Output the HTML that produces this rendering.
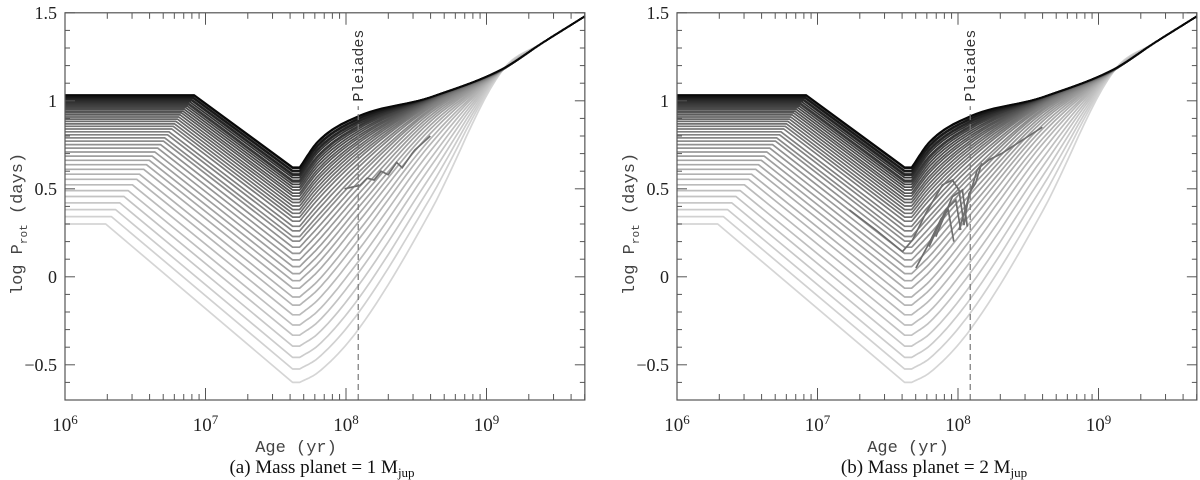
<!DOCTYPE html>
<html><head><meta charset="utf-8"><style>
html,body{margin:0;padding:0;background:#fff;width:1200px;height:480px;overflow:hidden}
svg{display:block}
</style></head><body>
<svg id="chart" width="1200" height="480" viewBox="0 0 1200 480" xmlns="http://www.w3.org/2000/svg"></svg>
<script>
// ---- data ----
const p0   = [0.300,0.342,0.382,0.420,0.456,0.490,0.523,0.554,0.583,0.611,0.637,0.662,0.686,0.709,0.731,0.751,0.771,0.789,0.807,0.824,0.840,0.855,0.869,0.883,0.896,0.908,0.920,0.931,0.941,0.951,0.961,0.970,0.978,0.986,0.994,1.001,1.008,1.015,1.021,1.027,1.033];
const tLock= [6.29,6.33,6.36,6.39,6.42,6.45,6.48,6.51,6.53,6.56,6.58,6.60,6.62,6.64,6.66,6.68,6.70,6.71,6.73,6.74,6.76,6.77,6.78,6.79,6.80,6.81,6.82,6.83,6.84,6.85,6.86,6.87,6.88,6.88,6.89,6.90,6.90,6.91,6.91,6.92,6.92];
const pMin = [-0.600,-0.524,-0.458,-0.394,-0.332,-0.274,-0.216,-0.161,-0.115,-0.065,-0.022,0.018,0.058,0.096,0.133,0.168,0.203,0.229,0.261,0.287,0.316,0.339,0.361,0.382,0.402,0.422,0.440,0.459,0.475,0.493,0.509,0.525,0.539,0.548,0.563,0.576,0.584,0.597,0.604,0.617,0.623];
const p78  = [-0.544,-0.462,-0.391,-0.323,-0.256,-0.194,-0.131,-0.072,-0.023,0.031,0.077,0.120,0.163,0.204,0.244,0.281,0.319,0.347,0.381,0.409,0.440,0.465,0.489,0.511,0.533,0.554,0.573,0.594,0.611,0.630,0.648,0.665,0.680,0.689,0.706,0.720,0.728,0.742,0.750,0.764,0.770];
const p120 = [-0.300,-0.206,-0.126,-0.051,0.021,0.086,0.150,0.209,0.258,0.310,0.353,0.393,0.432,0.469,0.504,0.537,0.568,0.592,0.621,0.644,0.669,0.688,0.707,0.725,0.741,0.758,0.772,0.787,0.800,0.814,0.827,0.840,0.851,0.857,0.868,0.878,0.884,0.894,0.899,0.909,0.913];
const p400 = [0.370,0.448,0.512,0.570,0.624,0.670,0.714,0.753,0.783,0.814,0.839,0.861,0.882,0.899,0.915,0.930,0.943,0.952,0.963,0.971,0.979,0.985,0.990,0.995,0.999,1.002,1.005,1.008,1.010,1.013,1.014,1.016,1.017,1.018,1.019,1.019,1.020,1.020,1.020,1.020,1.020];
const tailAge = [9.11, 9.4, 9.7];
const tailP   = [1.17, 1.33, 1.48];
// planet-affected tracks
const planetLeft  = [[7.99,0.50],[8.1,0.52],[8.15,0.56],[8.2,0.55],[8.25,0.60],[8.3,0.58],[8.36,0.65],[8.4,0.62],[8.47,0.70],[8.49,0.72],[8.6,0.80]];
const planetRight = [
 [[7.227,0.380],[7.416,0.266],[7.605,0.143],[7.676,0.209],[7.771,0.361],[7.889,0.522],[7.960,0.55],[8.007,0.493],[8.043,0.294],[8.078,0.474],[8.125,0.531],[8.161,0.626],[8.220,0.664],[8.314,0.702],[8.6,0.85]],
 [[7.794,0.171],[7.913,0.380],[7.984,0.436],[8.019,0.266]],
 [[7.842,0.228],[7.960,0.455],[8.031,0.493],[8.066,0.285]],
 [[8.007,0.266],[8.078,0.455],[8.137,0.607],[8.173,0.645]],
 [[7.70,0.05],[7.80,0.20],[7.88,0.33],[7.93,0.38],[7.97,0.20]]
];
const yTicks = [-0.5,0,0.5,1,1.5];
const yTickLabels = ["\u22120.5","0","0.5","1","1.5"];
const xDecades = [6,7,8,9];
const pleiadesAge = 8.087;
const captions = ["(a) Mass planet = 1 M","(b) Mass planet = 2 M"];

// ---- drawing ----
const NS="http://www.w3.org/2000/svg";
const svg=document.getElementById('chart');
const X0=65, XW=140.5, AMIN=6, AMAX=9.7, PMIN=-0.7, PMAX=1.5, YB=400, YS=176;
function el(tag,attrs,parent){const e=document.createElementNS(NS,tag);for(const k in attrs)e.setAttribute(k,attrs[k]);(parent||svg).appendChild(e);return e;}
function monotone(xs,ys){const n=xs.length,d=[],m=[];for(let i=0;i<n-1;i++)d.push((ys[i+1]-ys[i])/(xs[i+1]-xs[i]));m[0]=d[0];m[n-1]=d[n-2];for(let i=1;i<n-1;i++){m[i]=(d[i-1]*d[i]<=0)?0:(d[i-1]+d[i])/2;}
 for(let i=0;i<n-1;i++){if(d[i]===0){m[i]=m[i+1]=0;continue;}const a=m[i]/d[i],b=m[i+1]/d[i],s=a*a+b*b;if(s>9){const t=3/Math.sqrt(s);m[i]=t*a*d[i];m[i+1]=t*b*d[i];}}
 const out=[];for(let i=0;i<n-1;i++){const h=xs[i+1]-xs[i];for(let k=0;k<12;k++){const t=k/12,t2=t*t,t3=t2*t;out.push([xs[i]+t*h,(2*t3-3*t2+1)*ys[i]+(t3-2*t2+t)*h*m[i]+(-2*t3+3*t2)*ys[i+1]+(t3-t2)*h*m[i+1]]);}}
 out.push([xs[n-1],ys[n-1]]);return out;}

[0,612].forEach((ox,pi)=>{
 const g=el('g',{});
 
 
 const xs=a=>ox+X0+(a-AMIN)*XW, ys=p=>YB-(p-PMIN)*YS;
 const L=xs(AMIN),R=xs(AMAX),T=ys(PMAX),B=ys(PMIN);
 const cg=el('g',{fill:'none','stroke-width':'1.7','stroke-linejoin':'round'},g);
 
 
 const n=p0.length;
 for(let i=0;i<n;i++){
  const t=i/(n-1);
  const gv=Math.round(205*Math.pow(1-t,0.85)+8);
  const pts=[[AMIN,p0[i]],[tLock[i],p0[i]],[7.62,pMin[i]]];
  const sm=monotone([7.67,7.8,pleiadesAge,8.6].concat(tailAge),[pMin[i],p78[i],p120[i],p400[i],tailP[0]+0.01*t,tailP[1],tailP[2]]);
  const all=pts.concat(sm);
  const path=el('path',{d:'M'+all.map(q=>xs(q[0]).toFixed(1)+','+ys(q[1]).toFixed(1)).join('L'),stroke:`rgb(${gv},${gv},${gv})`},cg);
  
  
 }
 const planets = pi===0?[planetLeft]:planetRight;
 planets.forEach(pl=>{
  const pp=el('path',{d:'M'+pl.map(q=>xs(q[0]).toFixed(1)+','+ys(q[1]).toFixed(1)).join('L'),stroke:'#6e6e6e',fill:'none','stroke-width':'1.7'},g);
  
  
 });
 // Pleiades line
 const px=xs(pleiadesAge);
 const pl=el('line',{x1:px,y1:B,x2:px,y2:ys(0.97),stroke:'#777','stroke-width':'1.2','stroke-dasharray':'6,4'},g);
 
 
 const pt=el('text',{x:0,y:0,transform:`translate(${px+5},${ys(1.2)}) rotate(-90)`,'text-anchor':'middle','font-family':'Liberation Mono, monospace','font-size':'15',fill:'#333'},g);
 pt.textContent='Pleiades';
 
 
 // frame
 const fr=el('rect',{x:L,y:T,width:R-L,height:B-T,fill:'none',stroke:'#555','stroke-width':'1.2'},g);
 
 
 // y ticks
 for(let k=-7;k<=15;k++){const v=k/10,y=ys(v),maj=(k%5===0),len=maj?10:5;
  el('line',{x1:L,y1:y,x2:L+len,y2:y,stroke:'#555'},g);el('line',{x1:R,y1:y,x2:R-len,y2:y,stroke:'#555'},g);}
 yTicks.forEach((v,j)=>{const t=el('text',{x:L-8,y:ys(v)+6,'text-anchor':'end','font-family':'Liberation Serif, serif','font-size':'18',fill:'#222'},g);t.textContent=yTickLabels[j];
  
  });
 // x ticks
 xDecades.forEach(d=>{for(let m=1;m<=9;m++){const a=d+Math.log10(m);if(a>AMAX)break;const x=xs(a),len=m===1?12:6;
  el('line',{x1:x,y1:B,x2:x,y2:B-len,stroke:'#555'},g);el('line',{x1:x,y1:T,x2:x,y2:T+len,stroke:'#555'},g);}
  const t=el('text',{x:xs(d),y:B+31,'text-anchor':'middle','font-family':'Liberation Serif, serif','font-size':'19',fill:'#222'},g);
  t.innerHTML='10<tspan dy="-7" font-size="13">'+d+'</tspan>';
  
  });
 const xt=el('text',{x:ox+296,y:B+52,'text-anchor':'middle','font-family':'Liberation Mono, monospace','font-size':'17',fill:'#444'},g);
 xt.textContent='Age (yr)';
 
 
 const yt=el('text',{x:0,y:0,transform:`translate(${ox+22},${ys(0.3)}) rotate(-90)`,'text-anchor':'middle','font-family':'Liberation Mono, monospace','font-size':'17',fill:'#444'},g);
 yt.innerHTML='log P<tspan dy="5" font-size="11">rot</tspan><tspan dy="-5"> (days)</tspan>';
 
 
 const cp=el('text',{x:ox+322,y:473,'text-anchor':'middle','font-family':'Liberation Serif, serif','font-size':'19',fill:'#111'},g);
 cp.innerHTML=captions[pi]+'<tspan dy="4" font-size="13">jup</tspan>';
 
 
});
</script>
</body></html>
